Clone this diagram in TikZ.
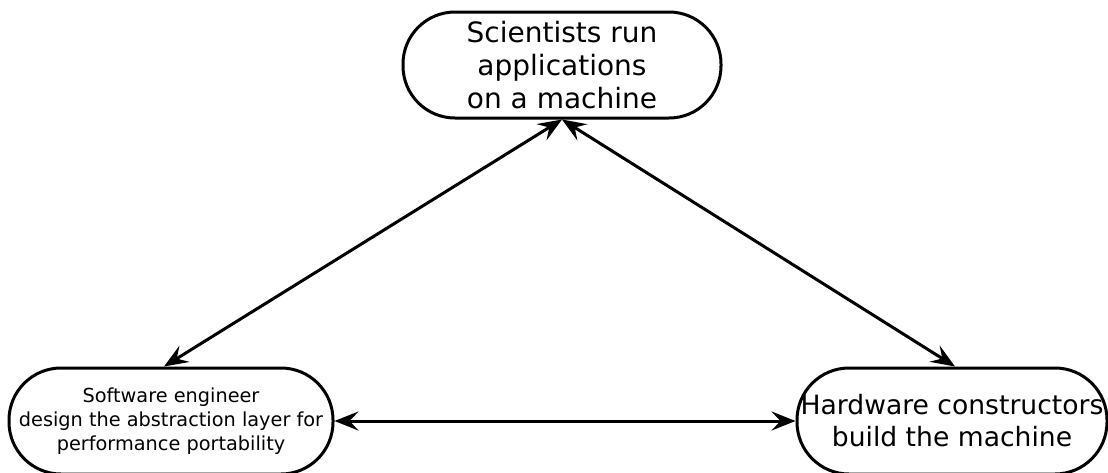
\documentclass[tikz,border=0pt]{standalone}
\usepackage{fontspec}
\setmainfont{DejaVu Sans}
\usetikzlibrary{arrows.meta}
\begin{document}
\begin{tikzpicture}[x=1pt,y=-1pt,
  stadium/.style={draw=black, line width=3pt, fill=white, rounded corners=52pt,
    inner sep=0pt, align=center, minimum height=106pt},
  conn/.style={line width=3pt, {Stealth[length=24pt,width=19pt,inset=9pt]}-{Stealth[length=24pt,width=19pt,inset=9pt]}}
]
\useasboundingbox (0,0) rectangle (1108,472);
\node[stadium, minimum width=318pt, font=\fontsize{28}{33}\selectfont] (sci) at (562,65)
  {Scientists run\\applications\\on a machine};
\node[stadium, minimum width=324pt, font=\fontsize{19.3}{24}\selectfont] (sw) at (171,421)
  {Software engineer\\design the abstraction layer for\\performance portability};
\node[stadium, minimum width=310pt, font=\fontsize{26.6}{32}\selectfont] (hw) at (952,421)
  {Hardware constructors\\build the machine};
\draw[conn] ([xshift=-7pt]sw.north) -- (sci.south);
\draw[conn] ([xshift=3pt]hw.north) -- (sci.south);
\draw[conn] (sw.east) -- (hw.west);
\end{tikzpicture}
\end{document}
